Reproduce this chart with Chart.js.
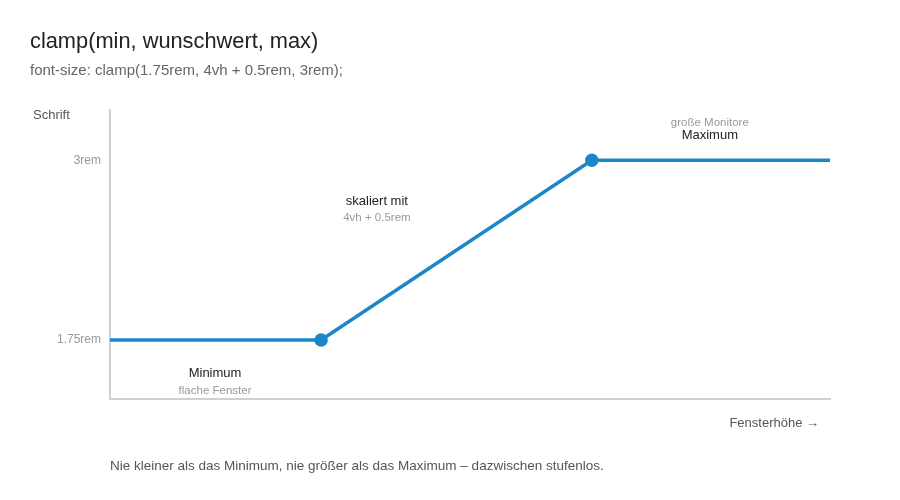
<!DOCTYPE html>
<html lang="de">
<head>
<meta charset="utf-8">
<script src="https://cdn.jsdelivr.net/npm/chart.js@4"></script>
<style>
  html, body { margin: 0; padding: 0; background: #fff; }
  body { width: 900px; height: 500px; position: relative; overflow: hidden; font-family: "Liberation Sans", Arial, sans-serif; }
  #title { position: absolute; left: 30px; top: 28px; font-size: 21.8px; color: #222; }
  #subtitle { position: absolute; left: 30px; top: 61px; font-size: 15px; color: #666; }
  #footer { position: absolute; left: 110px; top: 458px; font-size: 13.5px; color: #555; }
  #wrap { position: absolute; left: 0; top: 0; width: 900px; height: 500px; }
</style>
</head>
<body>
<div id="wrap"><canvas id="clampChart"></canvas></div>
<div id="title">clamp(min, wunschwert, max)</div>
<div id="subtitle">font-size: clamp(1.75rem, 4vh + 0.5rem, 3rem);</div>
<div id="footer">Nie kleiner als das Minimum, nie größer als das Maximum – dazwischen stufenlos.</div>
<script>
// Fensterhöhe (px) und Schriftgröße (rem)
var windowHeights = [110, 500, 1000, 1440];
var fontSizes = [1.75, 1.75, 3, 3];
var yTickValues = [1.75, 3];

// Beschriftungen im Diagramm (Datenkoordinaten)
var noteTexts = ['Minimum', 'flache Fenster', 'skaliert mit', '4vh + 0.5rem', 'große Monitore', 'Maximum'];
var noteX = [304, 304, 603, 603, 1218, 1218];
var noteY = [1.52, 1.40, 2.715, 2.60, 3.264, 3.174];
var noteStrong = [true, false, true, false, false, true];

var points = windowHeights.map(function(h, i) {
    return { x: h, y: fontSizes[i] };
});

var notesPlugin = {
    id: 'notes',
    afterDraw: function(chart) {
        var ctx = chart.ctx;
        var xs = chart.scales.x, ys = chart.scales.y;
        ctx.save();
        ctx.textAlign = 'center';
        ctx.textBaseline = 'middle';
        for (var i = 0; i < noteTexts.length; i++) {
            ctx.font = noteStrong[i] ? '13px "Liberation Sans", Arial, sans-serif' : '11.5px "Liberation Sans", Arial, sans-serif';
            ctx.fillStyle = noteStrong[i] ? '#222' : '#999';
            ctx.fillText(noteTexts[i], xs.getPixelForValue(noteX[i]), ys.getPixelForValue(noteY[i]));
        }
        // Achsentitel
        var area = chart.chartArea;
        ctx.font = '13px "Liberation Sans", Arial, sans-serif';
        ctx.fillStyle = '#555';
        ctx.textAlign = 'left';
        ctx.fillText('Schrift', 33, area.top + 5);
        ctx.textAlign = 'right';
        ctx.fillText('Fensterhöhe →', area.right - 11, area.bottom + 24);
        ctx.restore();
    }
};

var clampChart = new Chart(document.getElementById('clampChart'), {
    type: 'line',
    data: {
        datasets: [{
            data: points,
            borderColor: '#1b87c9',
            backgroundColor: '#1b87c9',
            borderWidth: 3.5,
            borderCapStyle: 'round',
            pointRadius: [0, 5, 5, 0],
            pointHoverRadius: [0, 5, 5, 0],
            tension: 0
        }]
    },
    options: {
        responsive: true,
        maintainAspectRatio: false,
        animation: false,
        layout: { padding: { top: 110, right: 70, bottom: 101, left: 0 } },
        plugins: {
            legend: { display: false },
            tooltip: { enabled: false }
        },
        scales: {
            x: {
                type: 'linear',
                min: windowHeights[0],
                max: windowHeights[windowHeights.length - 1],
                grid: { display: false },
                border: { display: true, color: '#d0d0d0', width: 2 },
                ticks: { display: false },
                afterFit: function(scale) { scale.height = 0; }
            },
            y: {
                min: 1.34,
                max: 3.35,
                grid: { display: false, drawTicks: false },
                border: { display: true, color: '#d0d0d0', width: 2 },
                afterBuildTicks: function(scale) {
                    scale.ticks = yTickValues.map(function(v) { return { value: v }; });
                },
                ticks: {
                    padding: 9,
                    color: '#999',
                    font: { size: 12, family: '"Liberation Sans", Arial, sans-serif' },
                    callback: function(v) { return v + 'rem'; }
                },
                afterFit: function(scale) { scale.width = 110; }
            }
        }
    },
    plugins: [notesPlugin]
});
</script>
</body>
</html>
